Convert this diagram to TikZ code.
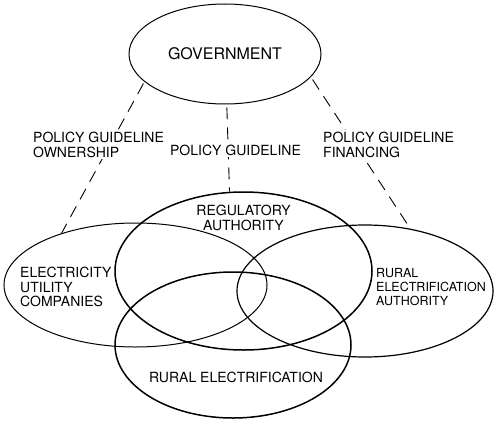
\documentclass[tikz,border=0pt]{standalone}
\usepackage{fontspec}
\setmainfont{TeX Gyre Heros}
\usepackage{tikz}
\usetikzlibrary{positioning}
\usetikzlibrary{shapes.geometric}
\usetikzlibrary{calc}
\tikzset{
    ring/.style={draw, ellipse, inner sep=0pt, line width=1pt},
    thickring/.style={ring, line width=1.5pt},
    link/.style={line width=0.9pt, dash pattern=on 12pt off 8pt},
    caption/.style={inner sep=0pt, font=\fontsize{14}{14.5}\selectfont},
    cutlabel/.style={caption, fill=white, inner sep=2pt}
}

\begin{document}
\begin{tikzpicture}[x=1pt, y=1pt]
        \useasboundingbox (0,0) rectangle (494,421);
        \node [ring, minimum width=192pt, minimum height=100pt, font=\fontsize{16}{18}\selectfont]
            (gov) at (225,367)
            {GOVERNMENT};
        \node [ring, minimum width=263pt, minimum height=124pt] (elec) at (135.5,136) {};
        \node [ring, line width=1.2pt, minimum width=256pt, minimum height=132pt] (rea) at (365,130) {};
        \node [thickring, minimum width=257pt, minimum height=158pt] (reg) at (243.5,150) {};
        \node [thickring, minimum width=236pt, minimum height=146pt] (rural) at (233,76) {};

        % dashed links from the government
        \draw [link, shorten <=2pt] (gov.199) -- (elec.145);
        \draw [link, shorten <=3pt] (gov.272) -- (reg.100);
        \draw [link, shorten <=3pt] (gov.345) -- (rea.54);

        \node [cutlabel, anchor=north west, align=left] (ownlbl) at (31,291) {POLICY GUIDELINE\\OWNERSHIP};
        \node [cutlabel, anchor=center] (midlbl) at (235.5,271) {POLICY GUIDELINE};
        \node [cutlabel, anchor=north west, align=left] (finlbl) at (321,291) {POLICY GUIDELINE\\FINANCING};

        \node [caption, anchor=north, align=center] (reglbl) at (243.5,216) {REGULATORY\\AUTHORITY};
        \node [caption, anchor=north west, align=left] (eleclbl) at (20,154) {ELECTRICITY\\UTILITY\\COMPANIES};
        \node [caption, anchor=north west, align=left, font=\fontsize{12.5}{14}\selectfont] (realbl) at (376,153) {RURAL\\ELECTRIFICATION\\AUTHORITY};
        \node [caption, anchor=center] (rurallbl) at (236,44) {RURAL ELECTRIFICATION};
    \end{tikzpicture}
\end{document}
